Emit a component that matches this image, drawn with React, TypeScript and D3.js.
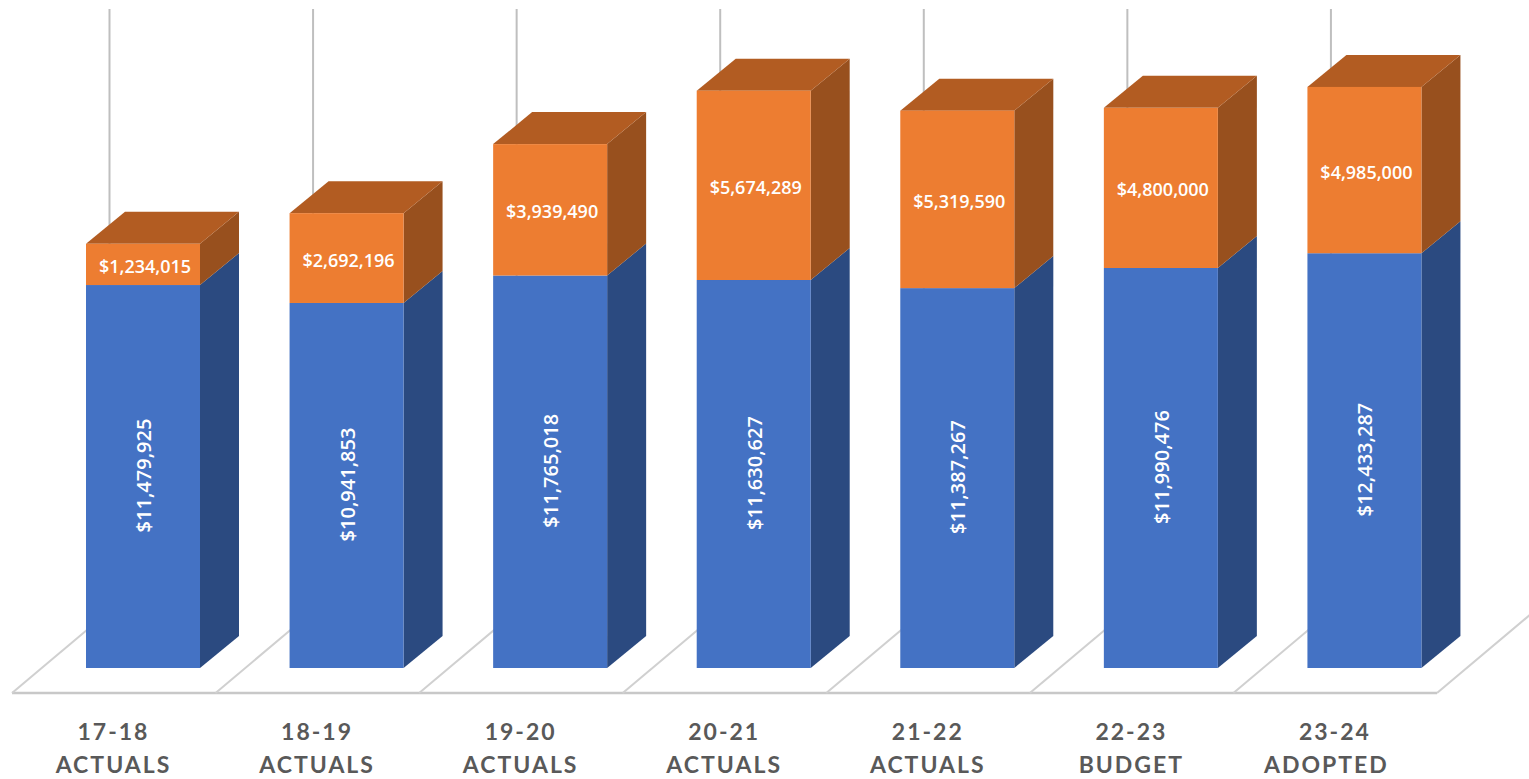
import React from "react";
import * as d3 from "d3";

const periods = ["17-18", "18-19", "19-20", "20-21", "21-22", "22-23", "23-24"];
const stages = ["ACTUALS", "ACTUALS", "ACTUALS", "ACTUALS", "ACTUALS", "BUDGET", "ADOPTED"];
const lowerValues = [11479925, 10941853, 11765018, 11630627, 11387267, 11990476, 12433287];
const upperValues = [1234015, 2692196, 3939490, 5674289, 5319590, 4800000, 4985000];

const WIDTH = 1529;
const HEIGHT = 779;
const BASE_Y = 668;
const FLOOR_Y = 693;
const DEPTH_X = 39;
const DEPTH_Y = 32;
const BAR_W = 114;
const BAR_OFFSET = 74;
const WALL_OFFSET = 97.5;
const LABEL_FONT = "'Open Sans', sans-serif";
const AXIS_FONT = "Lato, sans-serif";

const usd = (v: number) => "$" + d3.format(",")(v);

// Extruded column segment: front face, right side and (optionally) the top lid.
function Block({ x, top, bottom, front, side, lid }: { x: number; top: number; bottom: number; front: string; side: string; lid?: string }) {
  const r = x + BAR_W;
  const poly = d3.line();
  return (
    <g>
      <path d={poly([[r, bottom], [r + DEPTH_X, bottom - DEPTH_Y], [r + DEPTH_X, top - DEPTH_Y], [r, top]]) + "Z"} fill={side} />
      {lid && <path d={poly([[x, top], [x + DEPTH_X, top - DEPTH_Y], [r + DEPTH_X, top - DEPTH_Y], [r, top]]) + "Z"} fill={lid} />}
      <rect x={x} y={top} width={BAR_W} height={bottom - top} fill={front} />
    </g>
  );
}

export default function App() {
  const band = d3.scaleBand<string>().domain(periods).range([12, 1437]);
  const step = band.step();
  const y = d3.scaleLinear().domain([0, 1e6]).range([BASE_Y, BASE_Y - 33.36]);
  const floorLine = d3.line();

  return (
    <svg width={WIDTH} height={HEIGHT} viewBox={`0 0 ${WIDTH} ${HEIGHT}`} style={{ position: "absolute", left: 0, top: 0, background: "#fff" }}>
      {/* back wall gridlines */}
      {periods.map((p) => {
        const wx = band(p)! + WALL_OFFSET;
        return <line key={p} x1={wx} x2={wx} y1={9} y2={612} stroke="#bfbfbf" strokeWidth={2} />;
      })}
      {/* floor */}
      <path d={floorLine([[12, FLOOR_Y], [1437, FLOOR_Y]])!} stroke="#c8c8c8" strokeWidth={2.5} fill="none" />
      {[...periods, "end"].map((p, i) => {
        const fx = 12 + i * step;
        return <path key={p} d={floorLine([[fx, FLOOR_Y], [fx + WALL_OFFSET, FLOOR_Y - 82]])!} stroke="#d0d0d0" strokeWidth={2} fill="none" />;
      })}
      {/* columns */}
      {periods.map((p, i) => {
        const x = band(p)! + BAR_OFFSET;
        const midTop = y(lowerValues[i]);
        const topY = y(lowerValues[i] + upperValues[i]);
        const cx = x + BAR_W / 2;
        return (
          <g key={p}>
            <Block x={x} top={midTop} bottom={BASE_Y} front="#4472c4" side="#2b4a80" />
            <Block x={x} top={topY} bottom={midTop} front="#ed7d31" side="#98501e" lid="#b25c22" />
            <text x={cx + 2} y={(topY + midTop) / 2 + 1.5} dominantBaseline="central" textAnchor="middle" fill="#fff" fontFamily={LABEL_FONT} fontWeight={600} fontSize={18}>
              {usd(upperValues[i])}
            </text>
            <text transform={`translate(${cx + 0.5},${(midTop + BASE_Y) / 2 - 1}) rotate(-90)`} dominantBaseline="central" textAnchor="middle" fill="#fff" fontFamily={LABEL_FONT} fontWeight={600} fontSize={20}>
              {usd(lowerValues[i])}
            </text>
          </g>
        );
      })}
      {/* category labels; the longest second line sits a little left of its period */}
      {periods.map((p, i) => {
        const cx = band(p)! + 101.5;
        const stageX = stages[i] === "ADOPTED" ? cx - 8.5 : cx;
        return (
          <text key={p} textAnchor="middle" fill="#595959" fontFamily={AXIS_FONT} fontWeight={700} fontSize={23} letterSpacing={2}>
            <tspan x={cx} y={740}>{p}</tspan>
            <tspan x={stageX} y={773}>{stages[i]}</tspan>
          </text>
        );
      })}
    </svg>
  );
}
